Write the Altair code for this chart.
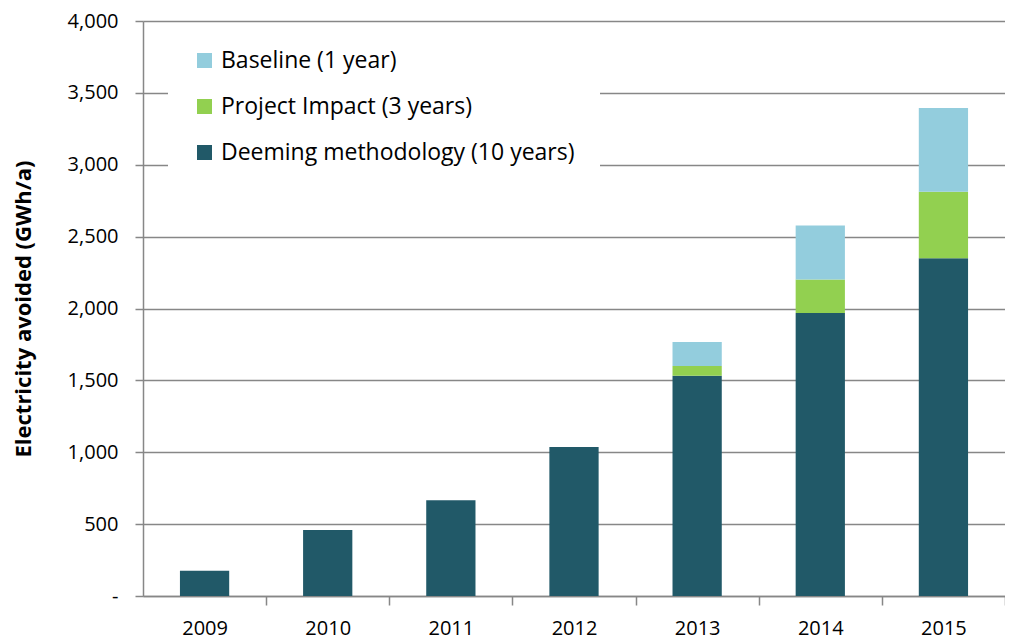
import altair as alt
import pandas as pd

years = ["2009", "2010", "2011", "2012", "2013", "2014", "2015"]
deeming = [175, 459, 666, 1037, 1532, 1968, 2350]
project = [0, 0, 0, 0, 68, 233, 463]
baseline = [0, 0, 0, 0, 167, 377, 581]
series = ["Baseline (1 year)", "Project Impact (3 years)", "Deeming methodology (10 years)"]
colors = ["#93CDDD", "#92D050", "#215968"]
y_ticks = [0, 500, 1000, 1500, 2000, 2500, 3000, 3500, 4000]

rows = []
for i, yr in enumerate(years):
    for s, vals, o in [(series[2], deeming, 0), (series[1], project, 1), (series[0], baseline, 2)]:
        if vals[i] > 0:
            rows.append({"year": yr, "series": s, "value": vals[i], "order": o})
df = pd.DataFrame(rows)

GRAY = "#878787"
W = 862
H = 575
HALF_STEP = W / len(years) / 2

chart = alt.Chart(df).mark_bar().encode(
    x=alt.X(
        "year:N",
        sort=years,
        scale=alt.Scale(paddingInner=0.6, paddingOuter=0.3),
        axis=alt.Axis(
            title=None, labelAngle=0, grid=False,
            tickOffset=HALF_STEP, labelOffset=-HALF_STEP,
            tickSize=9, tickColor=GRAY, tickWidth=1.5,
            domainColor=GRAY, domainWidth=1.5,
            labelFont="Open Sans", labelFontSize=20, labelColor="#000000", labelPadding=13,
        ),
    ),
    y=alt.Y(
        "value:Q",
        stack="zero",
        scale=alt.Scale(domain=[0, 4000], nice=False),
        axis=alt.Axis(
            title="Electricity avoided (GWh/a)",
            values=y_ticks,
            labelExpr="datum.value == 0 ? '-' : format(datum.value, ',')",
            labelFont="Open Sans", labelFontSize=20, labelColor="#000000", labelPadding=17,
            tickSize=8, tickColor=GRAY, tickWidth=1.5,
            domainColor=GRAY, domainWidth=1.5,
            grid=True, gridColor=GRAY, gridWidth=1.5,
            titleFont="Open Sans", titleFontSize=22, titleFontWeight="bold", titleColor="#000000",
            titleX=-120, titleY=H / 2, titleAngle=-90, titleAlign="center", titleBaseline="middle",
        ),
    ),
    color=alt.Color(
        "series:N",
        scale=alt.Scale(domain=series, range=colors),
        legend=alt.Legend(
            title=None, orient="none", legendX=25, legendY=3,
            fillColor="white", padding=25,
            symbolType="square", symbolSize=225, symbolStrokeWidth=0,
            labelFont="Open Sans", labelFontSize=23, labelColor="#000000",
            labelLimit=0, rowPadding=22, labelOffset=5,
        ),
    ),
    order=alt.Order("order:Q", sort="ascending"),
).properties(
    width=W,
    height=H,
    autosize=alt.AutoSizeParams(type="none"),
    padding={"left": 135, "top": 13, "right": 0, "bottom": 48},
).configure_view(stroke=None)

chart.save("out.html", embed_options={"renderer": "svg", "actions": False})
